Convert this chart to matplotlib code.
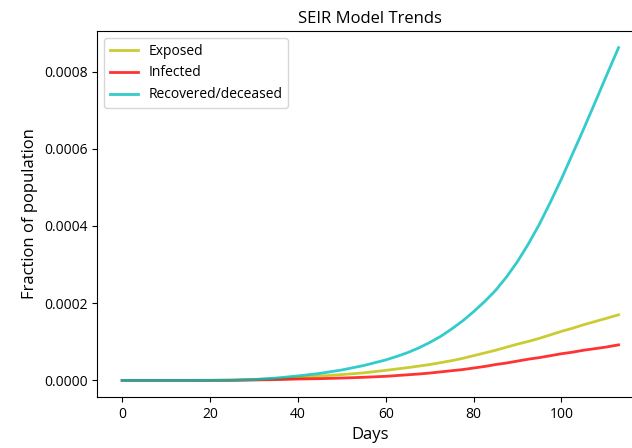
import numpy as np
import matplotlib
matplotlib.use('Agg')
import matplotlib.pyplot as plt

# days sampled from the chart (denser where the curve bends most)
days = [0, 5, 10, 15, 20, 25, 30, 35, 40, 45, 50, 55, 60, 62.5, 65, 67.5,
        70, 72.5, 75, 77.5, 80, 82.5, 85, 87.5, 90, 92.5, 95, 97.5, 100,
        102.5, 105, 107.5, 110, 113]

# fraction of population per group
exposed = [0, 0, 0, 0, 0, 1e-6, 2.5e-6, 4.5e-6, 7e-6, 1.1e-5, 1.5e-5, 1.95e-5,
           2.6e-5, 2.95e-5, 3.3e-5, 3.7e-5, 4.1e-5, 4.6e-5, 5.1e-5, 5.7e-5,
           6.4e-5, 7.1e-5, 7.8e-5, 8.6e-5, 9.4e-5, 1.01e-4, 1.09e-4, 1.18e-4,
           1.27e-4, 1.35e-4, 1.44e-4, 1.52e-4, 1.60e-4, 1.70e-4]
infected = [0, 0, 0, 0, 0, 0, 1e-6, 2e-6, 3.5e-6, 4.5e-6, 6e-6, 8e-6,
            1.05e-5, 1.25e-5, 1.45e-5, 1.65e-5, 1.9e-5, 2.2e-5, 2.5e-5,
            2.8e-5, 3.2e-5, 3.6e-5, 4.1e-5, 4.5e-5, 5.0e-5, 5.5e-5, 5.9e-5,
            6.4e-5, 6.9e-5, 7.3e-5, 7.8e-5, 8.2e-5, 8.6e-5, 9.2e-5]
recovered = [0, 0, 0, 0, 2e-7, 5e-7, 2e-6, 6e-6, 1.15e-5, 1.8e-5, 2.7e-5,
             3.85e-5, 5.3e-5, 6.2e-5, 7.2e-5, 8.4e-5, 9.8e-5, 1.14e-4,
             1.33e-4, 1.54e-4, 1.78e-4, 2.04e-4, 2.33e-4, 2.68e-4, 3.08e-4,
             3.54e-4, 4.05e-4, 4.62e-4, 5.22e-4, 5.86e-4, 6.50e-4, 7.16e-4,
             7.83e-4, 8.62e-4]

plt.rcParams['font.family'] = ['Open Sans', 'DejaVu Sans']

fig = plt.figure(figsize=(6.32, 4.48), dpi=100)
# the reference is cropped on the right, so the axes run past the figure edge
ax = fig.add_axes([0.154, 0.1138, 0.864, 0.817])

ax.plot(days, exposed, color='y', alpha=0.8, lw=2, label='Exposed')
ax.plot(days, infected, color='r', alpha=0.8, lw=2, label='Infected')
ax.plot(days, recovered, color='c', alpha=0.8, lw=2, label='Recovered/deceased')

ax.set_title('SEIR Model Trends', fontsize=12)
ax.set_xlabel('Days', fontsize=12)
ax.set_ylabel('Fraction of population', fontsize=12)
ax.set_xticks([0, 20, 40, 60, 80, 100])
ax.set_yticks([0, 0.0002, 0.0004, 0.0006, 0.0008])
ax.yaxis.set_major_formatter(matplotlib.ticker.FormatStrFormatter('%.4f'))
ax.tick_params(labelsize=10)
ax.legend(loc='upper left', fontsize=10)

fig.savefig('out.png', dpi=100)
